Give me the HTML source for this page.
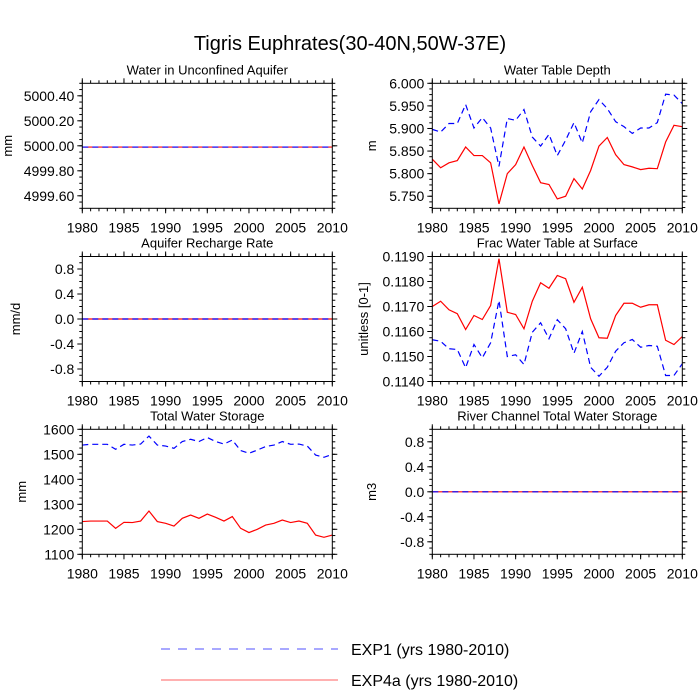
<!DOCTYPE html>
<html><head><meta charset="utf-8"><style>
body{margin:0;background:#fff}
svg{display:block;font-family:"Liberation Sans",sans-serif}
</style></head><body>
<svg id="c" width="700" height="700" viewBox="0 0 700 700">
<text x="350" y="50" font-size="20" text-anchor="middle">Tigris Euphrates(30-40N,50W-37E)</text>
<g>
<line x1="161" y1="649" x2="338" y2="649" stroke="#5050ff" stroke-width="1" stroke-dasharray="9,8"/>
<text x="351" y="655" font-size="16">EXP1 (yrs 1980-2010)</text>
<line x1="161" y1="680" x2="338" y2="680" stroke="#ff6060" stroke-width="1"/>
<text x="351" y="686" font-size="16">EXP4a (yrs 1980-2010)</text>
</g>
</svg>
<script>
const years = [];
for (let y = 1980; y <= 2010; y++) years.push(y);
const xTicks = [1980,1985,1990,1995,2000,2005,2010];

const aquiferExp1 = Array(31).fill(4999.99);
const aquiferExp4a = Array(31).fill(4999.99);
const aquiferTicks = ["4999.60","4999.80","5000.00","5000.20","5000.40"];

const rechargeExp1 = Array(31).fill(0);
const rechargeExp4a = Array(31).fill(0);
const symTicks = ["-0.8","-0.4","0.0","0.4","0.8"];

const wtdExp1 = [5.898,5.892,5.911,5.911,5.953,5.901,5.924,5.901,5.816,5.922,5.918,5.942,5.881,5.861,5.887,5.840,5.874,5.913,5.868,5.937,5.964,5.944,5.915,5.904,5.889,5.901,5.901,5.913,5.976,5.974,5.955];
const wtdExp4a = [5.832,5.813,5.824,5.829,5.859,5.840,5.840,5.824,5.733,5.800,5.820,5.859,5.818,5.780,5.776,5.744,5.750,5.789,5.766,5.807,5.861,5.880,5.842,5.820,5.815,5.809,5.812,5.811,5.870,5.907,5.904];
const wtdTicks = ["5.750","5.800","5.850","5.900","5.950","6.000"];

const fracExp1 = [0.11567,0.11561,0.11531,0.11528,0.11455,0.11548,0.11495,0.11555,0.11724,0.11500,0.11507,0.11468,0.11597,0.11635,0.11571,0.11647,0.11611,0.11513,0.11600,0.11457,0.11421,0.11457,0.11521,0.11555,0.11568,0.11537,0.11544,0.11541,0.11424,0.11424,0.11471];
const fracExp4a = [0.11700,0.11721,0.11687,0.11671,0.11608,0.11664,0.11648,0.11704,0.11891,0.11677,0.11668,0.11611,0.11721,0.11795,0.11773,0.11824,0.11811,0.11717,0.11777,0.11651,0.11575,0.11573,0.11664,0.11713,0.11713,0.11697,0.11707,0.11707,0.11565,0.11548,0.11580];
const fracTicks = ["0.1140","0.1150","0.1160","0.1170","0.1180","0.1190"];

const twsExp1 = [1537,1540,1540,1540,1520,1540,1537,1541,1573,1537,1533,1524,1551,1560,1551,1567,1551,1541,1557,1515,1504,1517,1531,1537,1551,1540,1541,1533,1497,1488,1500];
const twsExp4a = [1231,1233,1233,1233,1204,1228,1227,1233,1273,1231,1224,1213,1244,1257,1244,1261,1248,1233,1251,1204,1187,1200,1217,1224,1237,1227,1233,1224,1177,1168,1177];
const twsTicks = ["1100","1200","1300","1400","1500","1600"];

const rivExp1 = Array(31).fill(0);
const rivExp4a = Array(31).fill(0);

const panels = [
 {name:"aquifer",title:"Water in Unconfined Aquifer",unit:"mm",ux:8,x:82.3,y:83.3,min:4999.5,max:5000.5,ticks:aquiferTicks,minor:0.05,e1:aquiferExp1,e4:aquiferExp4a},
 {name:"water-table-depth",title:"Water Table Depth",unit:"m",ux:372,x:432.3,y:83.3,min:5.7233,max:6.0,ticks:wtdTicks,minor:0.0125,e1:wtdExp1,e4:wtdExp4a},
 {name:"recharge",title:"Aquifer Recharge Rate",unit:"mm/d",ux:16,x:82.3,y:256.5,min:-1,max:1,ticks:symTicks,minor:0.1,e1:rechargeExp1,e4:rechargeExp4a},
 {name:"frac-water-table",title:"Frac Water Table at Surface",unit:"unitless [0-1]",ux:364,x:432.3,y:256.5,min:0.114,max:0.119,ticks:fracTicks,minor:0.00025,e1:fracExp1,e4:fracExp4a},
 {name:"total-water-storage",title:"Total Water Storage",unit:"mm",ux:22,x:82.3,y:429.3,min:1100,max:1600,ticks:twsTicks,minor:25,e1:twsExp1,e4:twsExp4a},
 {name:"river-storage",title:"River Channel Total Water Storage",unit:"m3",ux:372,x:432.3,y:429.3,min:-1,max:1,ticks:symTicks,minor:0.1,e1:rivExp1,e4:rivExp4a}
];
const W=250,H=125;
const svg=document.getElementById('c');
const NS="http://www.w3.org/2000/svg";
function mk(tag,attrs,parent){const e=document.createElementNS(NS,tag);for(const k in attrs)e.setAttribute(k,attrs[k]);parent.appendChild(e);return e;}
panels.forEach(p=>{
 const g=mk('g',{},svg);
 
 
 const xs=v=>p.x+(v-1980)/30*W;
 const ys=v=>p.y+H-(v-p.min)/(p.max-p.min)*H;
 const t=mk('text',{x:p.x+W/2,y:p.y-9,'font-size':13,'text-anchor':'middle'},g);
 t.textContent=p.title;
 
 
 for(let v=Math.ceil(p.min/p.minor)*p.minor; v<=p.max+1e-9; v+=p.minor){
  const yy=ys(v);
  mk('line',{x1:p.x-3,x2:p.x,y1:yy,y2:yy,stroke:'#000','stroke-width':1},g);
  mk('line',{x1:p.x+W,x2:p.x+W+3,y1:yy,y2:yy,stroke:'#000','stroke-width':1},g);
 }
 p.ticks.forEach(s=>{
  const yy=ys(parseFloat(s));
  mk('line',{x1:p.x-5,x2:p.x,y1:yy,y2:yy,stroke:'#000','stroke-width':1},g);
  mk('line',{x1:p.x+W,x2:p.x+W+5,y1:yy,y2:yy,stroke:'#000','stroke-width':1},g);
  const l=mk('text',{x:p.x-8,y:yy+5,'font-size':14,'text-anchor':'end'},g);
  l.textContent=s;
  
  
 });
 years.forEach(yr=>{
  const xx=xs(yr);
  mk('line',{x1:xx,x2:xx,y1:p.y+H,y2:p.y+H+3,stroke:'#000','stroke-width':1},g);
  mk('line',{x1:xx,x2:xx,y1:p.y-3,y2:p.y,stroke:'#000','stroke-width':1},g);
 });
 xTicks.forEach(yr=>{
  const xx=xs(yr);
  mk('line',{x1:xx,x2:xx,y1:p.y+H,y2:p.y+H+5,stroke:'#000','stroke-width':1},g);
  mk('line',{x1:xx,x2:xx,y1:p.y-5,y2:p.y,stroke:'#000','stroke-width':1},g);
  const l=mk('text',{x:xx,y:p.y+H+24,'font-size':14,'text-anchor':'middle'},g);
  l.textContent=yr;
  
  
 });
 const u=mk('text',{transform:`translate(${p.ux+4},${p.y+H/2}) rotate(-90)`,'font-size':13,'text-anchor':'middle'},g);
 u.textContent=p.unit;
 
 
 const pts=a=>a.map((v,i)=>xs(years[i]).toFixed(2)+','+ys(v).toFixed(2)).join(' ');
 const l4=mk('polyline',{points:pts(p.e4),fill:'none',stroke:'#ff0000','stroke-width':1.2},g);
 
 
 const l1=mk('polyline',{points:pts(p.e1),fill:'none',stroke:'#0000ff','stroke-width':1.2,'stroke-dasharray':'6,4'},g);
 
 
 const f=mk('rect',{x:p.x,y:p.y,width:W,height:H,fill:'none',stroke:'#000','stroke-width':1},g);
 
 
});
</script>
</body></html>
